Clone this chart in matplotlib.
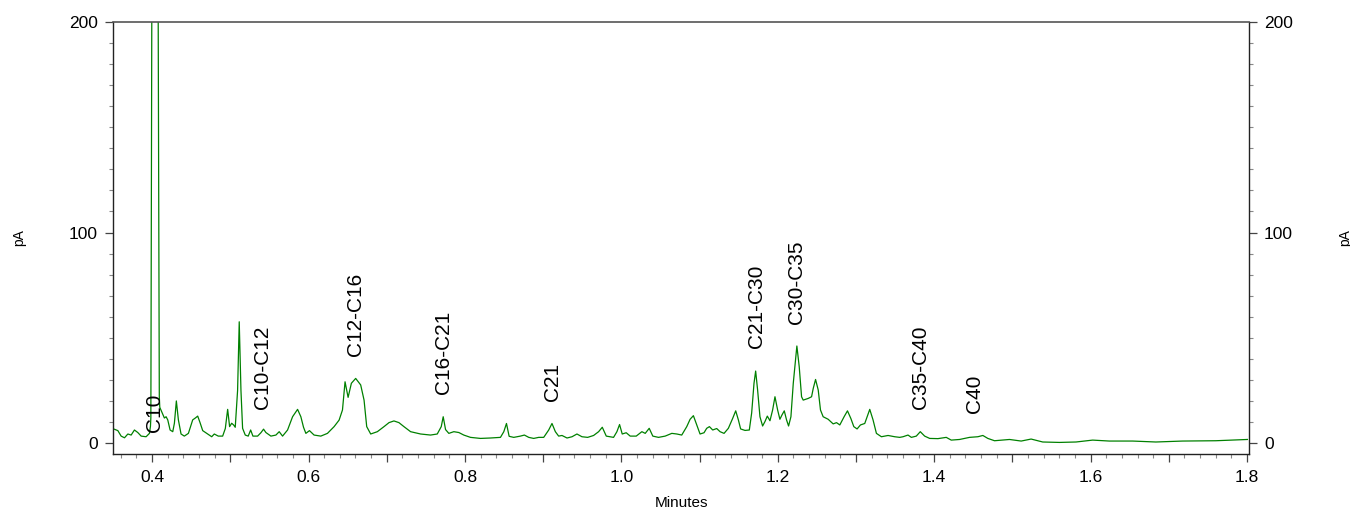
#!/usr/bin/env python3
"""Chromatogram (FID trace, pA vs minutes) with carbon range labels."""

import matplotlib
matplotlib.use("Agg")
import matplotlib.pyplot as plt
from matplotlib.ticker import MultipleLocator, FuncFormatter

plt.rcParams["font.family"] = ["Liberation Sans", "DejaVu Sans"]

# trace: retention time (min) and signal (pA)
time_min = [
    0.3515, 0.3562, 0.3604, 0.3647, 0.3690, 0.3732, 0.3774, 0.3817, 0.3860, 0.3923,
    0.3966, 0.3979, 0.3984, 0.3996, 0.4036, 0.4078, 0.4092, 0.4098, 0.4115, 0.4157,
    0.4179, 0.4200, 0.4230, 0.4264, 0.4285, 0.4310, 0.4336, 0.4370, 0.4412, 0.4464,
    0.4519, 0.4553, 0.4583, 0.4613, 0.4647, 0.4711, 0.4762, 0.4795, 0.4846, 0.4902,
    0.4936, 0.4966, 0.4991, 0.5017, 0.5042, 0.5063, 0.5093, 0.5114, 0.5136, 0.5157,
    0.5191, 0.5229, 0.5260, 0.5289, 0.5349, 0.5391, 0.5425, 0.5455, 0.5519, 0.5583,
    0.5625, 0.5668, 0.5732, 0.5796, 0.5860, 0.5902, 0.5936, 0.5966, 0.6012, 0.6071,
    0.6157, 0.6242, 0.6327, 0.6391, 0.6434, 0.6467, 0.6506, 0.6548, 0.6603, 0.6667,
    0.6710, 0.6744, 0.6795, 0.6880, 0.6965, 0.7029, 0.7092, 0.7156, 0.7220, 0.7305,
    0.7433, 0.7560, 0.7646, 0.7697, 0.7722, 0.7752, 0.7794, 0.7858, 0.7922, 0.7985,
    0.8071, 0.8199, 0.8326, 0.8454, 0.8497, 0.8531, 0.8565, 0.8624, 0.8709, 0.8760,
    0.8816, 0.8879, 0.8943, 0.9007, 0.9071, 0.9113, 0.9156, 0.9198, 0.9241, 0.9305,
    0.9369, 0.9432, 0.9496, 0.9569, 0.9645, 0.9709, 0.9756, 0.9807, 0.9900, 0.9943,
    0.9977, 1.0011, 1.0062, 1.0113, 1.0190, 1.0262, 1.0305, 1.0356, 1.0402, 1.0475,
    1.0560, 1.0645, 1.0709, 1.0772, 1.0836, 1.0879, 1.0921, 1.0964, 1.1006, 1.1057,
    1.1091, 1.1126, 1.1168, 1.1219, 1.1262, 1.1313, 1.1368, 1.1423, 1.1462, 1.1496,
    1.1525, 1.1581, 1.1636, 1.1666, 1.1696, 1.1717, 1.1742, 1.1772, 1.1806, 1.1836,
    1.1866, 1.1900, 1.1934, 1.1964, 1.1998, 1.2027, 1.2053, 1.2083, 1.2112, 1.2138,
    1.2168, 1.2198, 1.2244, 1.2274, 1.2304, 1.2325, 1.2389, 1.2432, 1.2453, 1.2483,
    1.2517, 1.2546, 1.2580, 1.2644, 1.2708, 1.2751, 1.2793, 1.2848, 1.2891, 1.2934,
    1.2972, 1.3014, 1.3057, 1.3112, 1.3176, 1.3218, 1.3261, 1.3325, 1.3410, 1.3495,
    1.3559, 1.3601, 1.3665, 1.3708, 1.3771, 1.3822, 1.3878, 1.3942, 1.4048, 1.4154,
    1.4218, 1.4324, 1.4452, 1.4558, 1.4622, 1.4686, 1.4771, 1.4963, 1.5112, 1.5239,
    1.5388, 1.5601, 1.5813, 1.6026, 1.6239, 1.6537, 1.6834, 1.7175, 1.7600, 1.8004,
]
signal_pa = [
    6.6, 5.9, 3.3, 2.5, 4.3, 3.8, 6.2, 5.0, 3.3, 3.0,
    4.6, 8.0, 12.0, 200.0, 900.0, 200.0, 22.0, 17.0, 15.5, 11.9,
    12.5, 11.0, 6.2, 5.4, 9.4, 20.0, 11.0, 4.3, 3.3, 4.6,
    11.0, 11.9, 12.8, 9.7, 5.9, 4.3, 3.0, 4.3, 3.3, 3.3,
    6.9, 16.0, 7.8, 9.4, 8.6, 7.5, 25.0, 57.6, 25.0, 7.0,
    3.8, 3.3, 6.2, 3.3, 3.3, 4.9, 6.6, 5.0, 3.3, 3.8,
    5.4, 3.3, 6.2, 12.5, 16.0, 12.5, 7.5, 4.6, 5.9, 3.8,
    3.3, 4.6, 7.8, 10.9, 15.7, 29.1, 21.7, 28.4, 30.7, 27.6,
    20.4, 7.8, 4.3, 5.4, 7.8, 9.7, 10.5, 9.7, 7.8, 5.4,
    4.3, 3.8, 4.3, 7.8, 12.5, 6.4, 4.6, 5.4, 5.0, 3.8,
    2.7, 2.2, 2.4, 2.7, 5.4, 9.3, 3.2, 2.7, 3.3, 3.8,
    2.7, 2.2, 2.7, 2.7, 6.2, 9.3, 5.4, 3.3, 3.6, 2.4,
    3.0, 4.3, 3.0, 2.7, 3.6, 5.4, 7.5, 3.3, 2.7, 5.4,
    8.8, 4.3, 4.9, 3.3, 3.3, 5.4, 4.6, 7.0, 3.3, 2.7,
    3.3, 4.6, 4.3, 3.8, 7.8, 11.3, 13.0, 8.6, 4.3, 4.9,
    7.0, 7.8, 6.2, 6.9, 5.4, 4.6, 7.0, 11.7, 15.3, 11.0,
    6.7, 6.0, 6.2, 14.3, 28.4, 34.2, 25.2, 12.5, 8.1, 10.2,
    12.8, 10.6, 15.7, 22.0, 15.7, 11.3, 13.3, 15.3, 11.0, 8.1,
    12.5, 28.4, 46.1, 36.3, 22.0, 20.4, 21.2, 22.0, 25.9, 30.2,
    25.2, 15.7, 12.5, 11.3, 9.1, 9.7, 8.6, 12.5, 15.3, 11.7,
    7.8, 6.7, 8.6, 9.3, 16.0, 11.0, 4.6, 3.0, 3.6, 3.0,
    2.7, 3.0, 3.8, 2.7, 3.3, 5.4, 3.3, 2.2, 2.1, 2.7,
    1.4, 1.7, 2.7, 3.0, 3.6, 2.2, 1.1, 1.7, 0.95, 1.9,
    0.5, 0.3, 0.5, 1.4, 0.95, 0.95, 0.5, 0.95, 1.1, 1.7,
]

# carbon range labels: text, time of label, signal at label foot
label_text = ["C10", "C10-C12", "C12-C16", "C16-C21", "C21",
              "C21-C30", "C30-C35", "C35-C40", "C40"]
label_time = [0.4032, 0.5413, 0.6603, 0.7726, 0.9117,
              1.1722, 1.2244, 1.3826, 1.4509]
label_foot = [5.4, 16.2, 41.3, 23.3, 20.1, 45.3, 56.5, 16.0, 14.3]

fig = plt.figure(figsize=(13.5, 5.12), dpi=100)
ax = fig.add_axes([113 / 1350, 1 - 454 / 512, 1136 / 1350, 432 / 512])

ax.plot(time_min, signal_pa, color="#008000", linewidth=0.9)

for txt, t, v in zip(label_text, label_time, label_foot):
    ax.text(t, v, txt, rotation=90, ha="center", va="bottom", fontsize=15)

ax.set_xlim(0.35, 1.8025)
ax.set_ylim(-5.2, 200)

ax.xaxis.set_major_locator(MultipleLocator(0.1))
ax.xaxis.set_minor_locator(MultipleLocator(0.02))
ax.xaxis.set_major_formatter(
    FuncFormatter(lambda x, _: f"{x:.1f}" if round(x * 10) % 2 == 0 else "")
)
ax.yaxis.set_major_locator(MultipleLocator(100))
ax.yaxis.set_minor_locator(MultipleLocator(10))
ax.yaxis.set_ticks_position("both")

ax.tick_params(axis="both", which="major", direction="out", length=5.5,
               width=0.9, color="#444444", labelsize=12.5)
ax.tick_params(axis="both", which="minor", direction="out", length=3.1,
               width=0.8, color="#888888")
ax.tick_params(axis="x", which="major", pad=6)
ax.tick_params(axis="y", which="major", pad=5.3, labelright=True)

for side in ["left", "right", "bottom"]:
    ax.spines[side].set_color("#222222")
    ax.spines[side].set_linewidth(1.0)
ax.spines["top"].set_color("#555555")
ax.spines["top"].set_linewidth(1.2)

ax.set_xlabel("Minutes", fontsize=11, labelpad=8)
fig.text(19 / 1350, 1 - 238 / 512, "pA", rotation=90, ha="center", va="center",
         fontsize=10)
fig.text(1345 / 1350, 1 - 238 / 512, "pA", rotation=90, ha="center", va="center",
         fontsize=10)

fig.savefig("out.png", dpi=100)
plt.close(fig)
